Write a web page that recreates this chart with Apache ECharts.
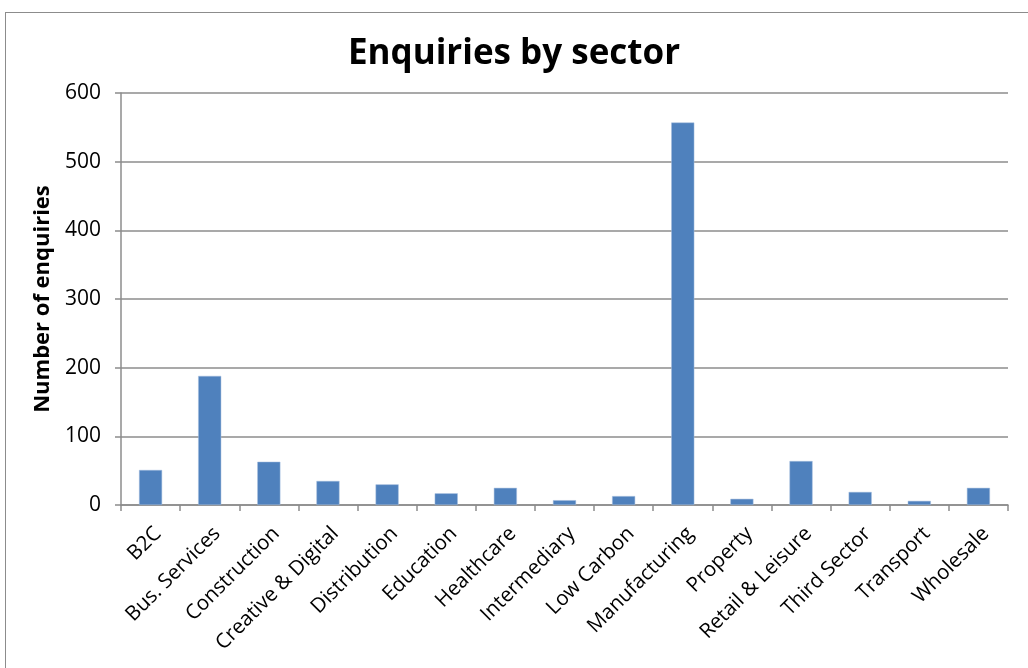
<!DOCTYPE html>
<html><head><meta charset="utf-8">
<script src="https://cdn.jsdelivr.net/npm/echarts@6/dist/echarts.min.js"></script>
<style>
html,body{margin:0;padding:0;background:#fff;}
#frame{position:absolute;left:5px;top:12px;width:1030px;height:700px;border:1.5px solid #8c8c8c;box-sizing:border-box;}
#c{position:absolute;left:0;top:0;width:1028px;height:668px;}
</style></head>
<body>
<div id="frame"></div>
<div id="c"></div>
<script>
const categories = ["B2C","Bus. Services","Construction","Creative & Digital","Distribution","Education","Healthcare","Intermediary","Low Carbon","Manufacturing","Property","Retail & Leisure","Third Sector","Transport","Wholesale"];
const enquiries = [51,188,63,35,30,17,25,7,13,557,9,64,19,6,25];
const yTicks = {min:0, max:600, interval:100};
const titleText = "Enquiries by sector";
const yAxisName = "Number of enquiries";

const chart = echarts.init(document.getElementById('c'), null, {renderer:'canvas'});
const font = "'Open Sans', 'Liberation Sans', sans-serif";
chart.setOption({
  animation:false,
  title:{text:titleText,left:'center',top:32,textStyle:{fontFamily:font,fontSize:35,fontWeight:'bold',color:'#000'}},
  grid:{left:121,right:20,top:93,bottom:163,containLabel:false},
  xAxis:{type:'category',data:categories,
    axisLine:{lineStyle:{color:'#8c8c8c',width:1.5}},
    axisTick:{show:true,alignWithLabel:false,length:6,lineStyle:{color:'#8c8c8c',width:1.5}},
    axisLabel:{rotate:45,interval:0,fontFamily:font,fontSize:20.5,color:'#000',margin:18,verticalAlign:'top'}},
  yAxis:{type:'value',min:yTicks.min,max:yTicks.max,interval:yTicks.interval,
    name:yAxisName,nameLocation:'middle',nameGap:67,nameRotate:90,
    nameTextStyle:{fontFamily:font,fontSize:22,fontWeight:'bold',color:'#000'},
    axisLine:{show:true,lineStyle:{color:'#8c8c8c',width:1.5}},
    axisTick:{show:true,length:6,lineStyle:{color:'#8c8c8c',width:1.5}},
    axisLabel:{fontFamily:font,fontSize:21,color:'#000',margin:20},
    splitLine:{lineStyle:{color:'#8c8c8c',width:1.5}}},
  series:[{type:'bar',data:enquiries,barWidth:'39%',itemStyle:{color:'#4f81bd',borderColor:'#a7bfde',borderWidth:0.5}}]
});
</script>
</body></html>
